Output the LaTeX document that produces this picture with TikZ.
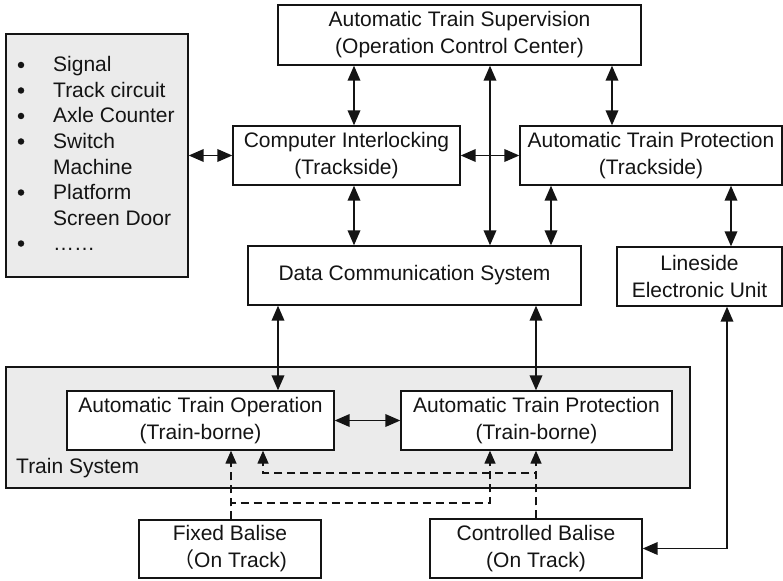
\documentclass[tikz,border=0pt]{standalone}
\usepackage{fontspec}
\setmainfont{Liberation Sans}
\newfontfamily\cjk{Noto Sans CJK SC}
\usetikzlibrary{arrows.meta}

\definecolor{ink}{HTML}{141414}
\definecolor{panelgrey}{HTML}{EBEBEB}

\begin{document}
\begin{tikzpicture}[x=1pt,y=-1pt,
  font=\fontsize{21}{27}\selectfont,
  every node/.style={text=ink},
  box/.style={draw=ink, line width=1.3pt, fill=white, align=center, inner sep=0pt},
  panel/.style={draw=ink, line width=1.3pt, fill=panelgrey, inner sep=0pt},
  head/.tip={Triangle[length=15pt,width=12.5pt]},
  link/.style={draw=ink, line width=1.9pt, head-head},
  beam/.style={draw=ink, line width=1.3pt, dash pattern=on 8pt off 5pt,
    -{Triangle[length=13pt,width=11pt]}},
  item/.style={anchor=base west, inner sep=0pt},
  dot/.style={circle, fill=ink, inner sep=0pt, minimum size=6.5pt}
]
\useasboundingbox (0,0) rectangle (783,580);

% grey panels: field equipment and the train
\node[panel, minimum width=182pt, minimum height=243pt] (side) at (97,155.5) {};
\node[panel, minimum width=684pt, minimum height=121pt] (train) at (348,427.5) {};
\node[anchor=base west, inner sep=0pt] (trainlbl) at (16,473) {Train System};

% field equipment list
\foreach \n/\y/\t in {1/72/Signal, 2/97.5/Track circuit, 3/123/Axle Counter,
    4/148.5/Switch, 5/174/Machine, 6/199.5/Platform, 7/225/Screen Door, 8/250.5/……}
  \node[item] (item\n) at (53,\y) {\t};
\foreach \n/\y in {1/72, 2/97.5, 3/123, 4/148.5, 6/199.5, 8/250.5}
  \node[dot] (bul\n) at (21,\y-7) {};

% subsystems
\node[box, minimum width=363pt, minimum height=60pt] (ats) at (459.5,35)
  {Automatic Train Supervision\\(Operation Control Center)};
\node[box, minimum width=227pt, minimum height=59pt] (ci) at (346.5,155.5)
  {Computer Interlocking\\(Trackside)};
\node[box, minimum width=262pt, minimum height=59pt] (atpt) at (651,155.5)
  {Automatic Train Protection\\(Trackside)};
\node[box, minimum width=333pt, minimum height=59pt] (dcs) at (414.5,275.5)
  {Data Communication System};
\node[box, minimum width=165pt, minimum height=59pt] (leu) at (699.5,276.5)
  {Lineside\\Electronic Unit};
\node[box, minimum width=267pt, minimum height=59pt] (ato) at (200.5,420.5)
  {Automatic Train Operation\\(Train-borne)};
\node[box, minimum width=271pt, minimum height=59pt] (atpb) at (536.5,420.5)
  {Automatic Train Protection\\(Train-borne)};
\node[box, minimum width=182pt, minimum height=58pt] (fbal) at (230,549)
  {Fixed Balise\\{\cjk （}On Track)};
\node[box, minimum width=212pt, minimum height=59pt] (cbal) at (536,548.5)
  {Controlled Balise\\(On Track)};

% data links
\draw[link] (side.east |- ci.west) -- (ci.west);
\draw[link] (ci.east) -- (atpt.west);
\draw[link] (ats.south -| 354,0) -- (ci.north -| 354,0);
\draw[link] (ats.south -| 490,0) -- (dcs.north -| 490,0);
\draw[link] (ats.south -| 612,0) -- (atpt.north -| 612,0);
\draw[link] (ci.south -| 354,0) -- (dcs.north -| 354,0);
\draw[link] (atpt.south -| 551,0) -- (dcs.north -| 551,0);
\draw[link] (atpt.south -| 731,0) -- (leu.north -| 731,0);
\draw[link] (dcs.south -| 278,0) -- (ato.north -| 278,0);
\draw[link] (dcs.south -| 536,0) -- (atpb.north -| 536,0);
\draw[link] (ato.east) -- (atpb.west);
\draw[link] (leu.south -| 727,0) |- (cbal.east);

% balise telegrams
\draw[beam] (fbal.north -| 231,0) -- (ato.south -| 231,0);
\draw[beam] (fbal.north -| 231,0) -- (231,503) -| (atpb.south -| 490,0);
\draw[beam] (cbal.north -| 536,0) -- (atpb.south -| 536,0);
\draw[beam] (cbal.north -| 536,0) -- (536,473) -| (ato.south -| 263,0);
\end{tikzpicture}
\end{document}
